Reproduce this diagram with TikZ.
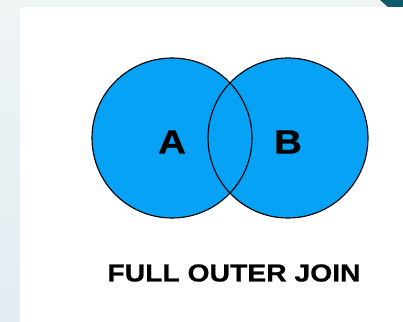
\documentclass[tikz,border=0pt]{standalone}
\usepackage{fontspec}
\setmainfont{Liberation Sans}
\newfontfamily\widesans[FakeStretch=1.15, FakeBold=0.6]{Liberation Sans Bold}
\definecolor{setblue}{HTML}{05A2F6}
\definecolor{paneledge}{HTML}{E2ECF1}
\definecolor{paneltop}{HTML}{EFF4F5}
\definecolor{cornerteal}{HTML}{0D5A6B}
\begin{document}
\begin{tikzpicture}[scale=1.0]
    \useasboundingbox (0,0) rectangle (10.075,8.025);

    % page background
    \fill[white] (0,0) rectangle (10.075,8.025);
    \fill[paneltop] (0,7.85) rectangle (10.075,8.025);
    \shade[top color=paneltop, bottom color=paneledge] (0,0) rectangle (0.5,8.025);
    \fill[cornerteal] (9.5,8.025) -- (9.7,7.85) -- (10.075,7.85) -- (10.075,8.025) -- cycle;

    % the two sets
    \fill[setblue] (4.3,4.575) circle (2.0);
    \fill[setblue] (7.2,4.575) circle (2.0);
    \draw[black, line width=0.8pt] (4.3,4.575) circle (2.0);
    \draw[black, line width=0.8pt] (7.2,4.575) circle (2.0);

    \node[font=\widesans\fontsize{24}{27}\selectfont] (setA) at (4.3,4.475) {A};
    \node[font=\widesans\fontsize{24}{27}\selectfont] (setB) at (7.2,4.475) {B};

    \node[font=\widesans\fontsize{17.5}{20}\selectfont] (title) at (5.85,1.2)
        {FULL OUTER JOIN};
\end{tikzpicture}
\end{document}
